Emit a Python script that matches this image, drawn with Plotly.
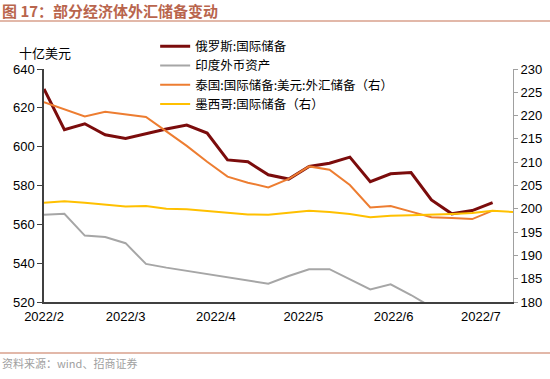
import plotly.graph_objects as go
import pandas as pd

dates = pd.date_range("2022-02-01", periods=24, freq="7D")

russia = [629.7, 608.7, 611.8, 606.1, 604.2, 606.6, 609.1, 611.1, 607.0, 593.2, 592.2, 585.5,
          583.3, 589.8, 591.5, 594.6, 582.0, 586.0, 586.7, 572.6, 565.4, 567.1, 571.2]
india = [564.9, 565.4, 554.2, 553.5, 550.3, 539.6, 537.7, 536.0, 534.4, 532.9, 531.0, 529.4,
         533.4, 536.9, 536.9, 531.7, 526.5, 529.1, 523.6, 517.4]
thailand = [222.9, 221.4, 219.8, 220.8, 220.2, 219.7, 216.6, 213.5, 210.1, 206.9, 205.6, 204.6,
            206.4, 209.1, 208.4, 205.1, 200.3, 200.6, 199.4, 198.2, 198.0, 197.8, 199.6]
mexico = [201.3, 201.6, 201.3, 200.9, 200.5, 200.6, 200.0, 199.9, 199.5, 199.1, 198.8, 198.7,
          199.1, 199.6, 199.3, 198.9, 198.2, 198.5, 198.6, 198.7, 198.9, 199.1, 199.6, 199.3]

names = ["俄罗斯:国际储备", "印度外币资产", "泰国:国际储备:美元:外汇储备（右）", "墨西哥:国际储备（右）"]
colors = ["#7B0C0C", "#A6A6A6", "#ED7D31", "#FFC000"]

left_ticks = list(range(520, 641, 20))
right_ticks = list(range(180, 231, 5))

fig = go.Figure()
fig.add_trace(go.Scatter(x=dates[:len(russia)], y=russia, name=names[0], mode="lines",
                         line=dict(color=colors[0], width=3)))
fig.add_trace(go.Scatter(x=dates[:len(india)], y=india, name=names[1], mode="lines",
                         line=dict(color=colors[1], width=2)))
fig.add_trace(go.Scatter(x=dates[:len(thailand)], y=thailand, name=names[2], mode="lines",
                         line=dict(color=colors[2], width=2), yaxis="y2"))
fig.add_trace(go.Scatter(x=dates[:len(mexico)], y=mexico, name=names[3], mode="lines",
                         line=dict(color=colors[3], width=2), yaxis="y2"))

tick_font = dict(family="Liberation Sans, Arial, sans-serif", size=13, color="#000000")
cjk = "Noto Sans CJK SC"

fig.update_layout(
    width=550, height=379,
    margin=dict(l=44, r=37, t=69, b=77, autoexpand=False),
    paper_bgcolor="white", plot_bgcolor="white",
    showlegend=True,
    legend=dict(x=0.237, y=1.16, xanchor="left", yanchor="top",
                bgcolor="rgba(0,0,0,0)", font=dict(family=cjk, size=12.5, color="#000"),
                tracegroupgap=0, itemwidth=30),
    xaxis=dict(type="date", range=["2022-02-01", "2022-07-12"],
               tickformat="%Y/%-m", dtick="M1", tick0="2022-02-01",
               showgrid=False, zeroline=False, showline=True, linecolor="#404040", linewidth=1.5,
               ticks="", tickfont=tick_font, ticklabelstandoff=2),
    yaxis=dict(range=[520, 640], tickvals=left_ticks, showgrid=False, zeroline=False,
               showline=True, linecolor="#404040", linewidth=1.5, ticks="outside",
               ticklen=5, tickcolor="#404040", tickfont=tick_font),
    yaxis2=dict(range=[180, 230], tickvals=right_ticks, overlaying="y", side="right",
                showgrid=False, zeroline=False, showline=True, linecolor="#A0A0A0",
                linewidth=1, ticks="outside", ticklen=4, tickcolor="#A0A0A0", tickfont=tick_font),
    annotations=[
        dict(text="<b>图 17：部分经济体外汇储备变动</b>", xref="paper", yref="paper",
             x=-44/469, y=(302-10)/233, xanchor="left", yanchor="middle", showarrow=False,
             font=dict(family=cjk, size=15, color="#B9654D")),
        dict(text="十亿美元", xref="paper", yref="paper", x=(45-44)/469, y=(302-52)/233,
             xanchor="center", yanchor="middle", showarrow=False,
             font=dict(family=cjk, size=13, color="#000")),
        dict(text="资料来源：wind、招商证券", xref="paper", yref="paper",
             x=-44/469, y=(302-363)/233, xanchor="left", yanchor="middle", showarrow=False,
             font=dict(family=cjk, size=11, color="#A0A0A0")),
    ],
    shapes=[
        dict(type="line", xref="paper", yref="paper", x0=-44/469, x1=506/469,
             y0=(302-21)/233, y1=(302-21)/233, line=dict(color="#D9A08C", width=1.5)),
        dict(type="line", xref="paper", yref="paper", x0=-44/469, x1=506/469,
             y0=(302-353)/233, y1=(302-353)/233, line=dict(color="#D9A08C", width=1.5)),
    ],
)

fig.write_html("out.html", config={"displayModeBar": False},
               post_script="document.body.style.margin='0';")
